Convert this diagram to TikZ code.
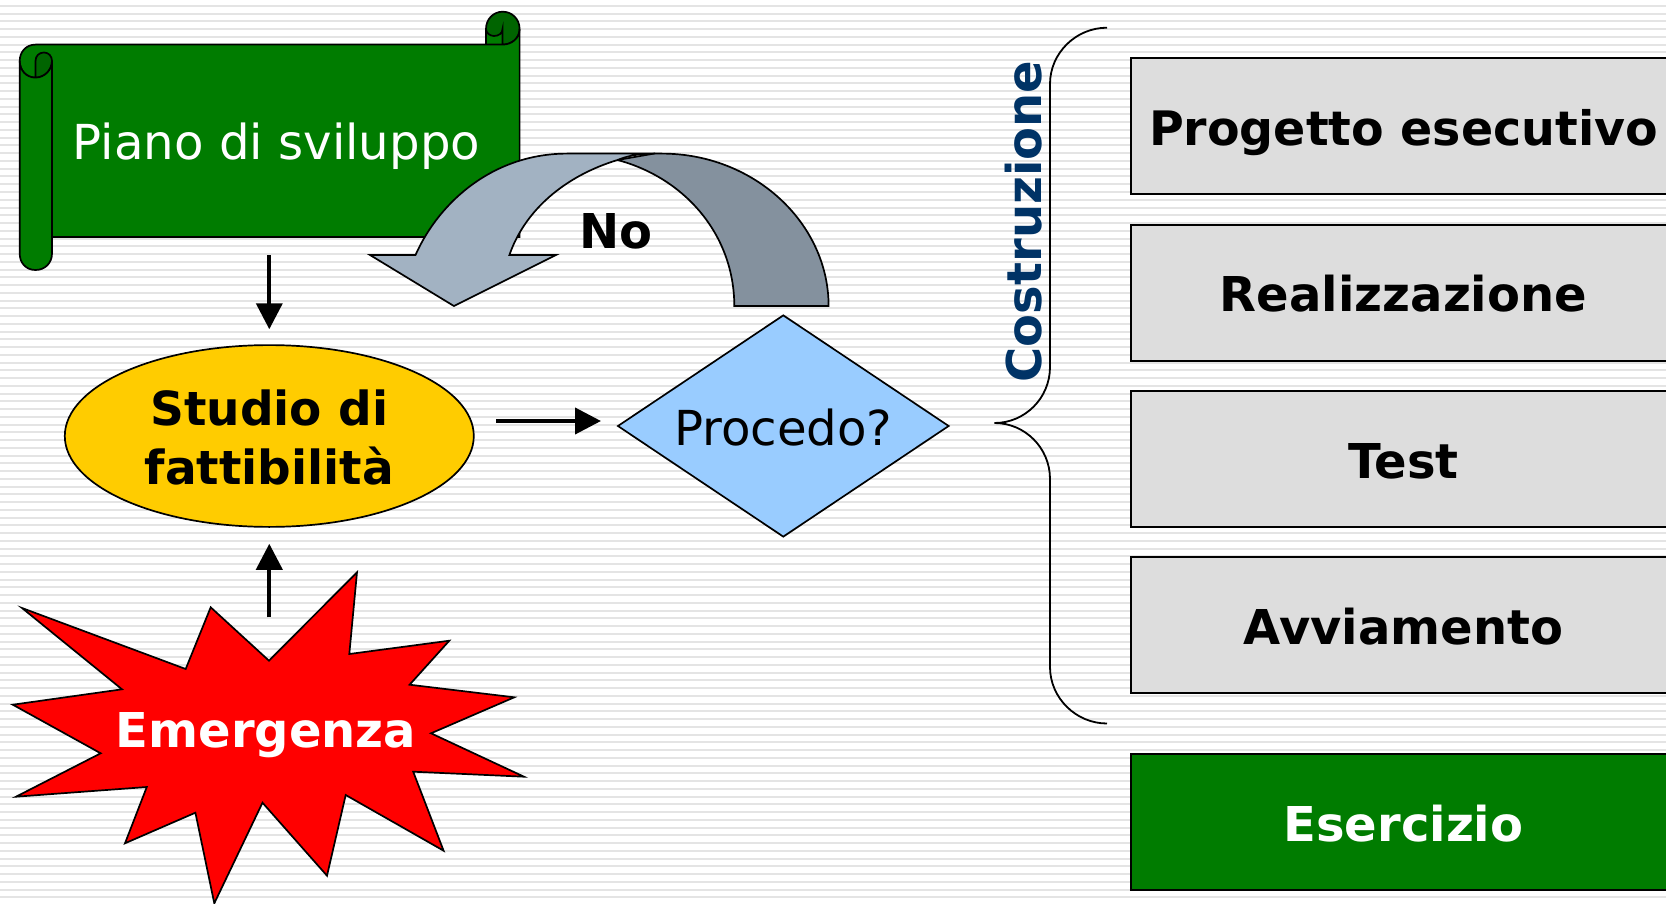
\documentclass[tikz,border=0pt]{standalone}
\usepackage{fontspec}
\setmainfont{DejaVu Sans}
\usetikzlibrary{shapes.geometric,arrows.meta}
\definecolor{scrollgreen}{RGB}{0,124,0}
\definecolor{scrolldark}{RGB}{0,100,0}
\definecolor{arrowlight}{RGB}{162,178,194}
\definecolor{arrowdark}{RGB}{132,145,158}
\definecolor{stripegray}{RGB}{228,228,228}
\definecolor{boxgray}{RGB}{221,221,221}
\definecolor{navytext}{RGB}{0,51,102}
\tikzset{
  bigtext/.style={font=\fontsize{24.1}{29}\selectfont},
  boldtext/.style={font=\fontsize{24}{29.5}\selectfont\bfseries},
  outline/.style={draw=black,line width=0.85pt},
  flow/.style={line width=2pt,-{Triangle[width=13pt,length=13pt]}},
  phasebox/.style={boldtext,draw=black,line width=1.1pt,minimum width=272.5pt,minimum height=68pt,
    inner sep=0pt,text height=22.5pt,text depth=3.2pt,fill=boxgray}
}
\begin{document}
\begin{tikzpicture}[x=0.5pt,y=-0.5pt]
\useasboundingbox (0,0) rectangle (1666,904);
\fill[white] (0,0) rectangle (1666,904);
\foreach \i in {0,...,116}
  \draw[stripegray,line width=1pt] (0,6+7.75*\i)--(1666,6+7.75*\i);

\filldraw[outline,fill=scrollgreen] (486,29) rectangle (502.5,44.6);
\filldraw[outline,fill=scrolldark] (486,29) .. controls (486,19) and (493.5,11.7) .. (502.7,11.7) .. controls (512,11.7) and (519.6,19) .. (519.6,29) .. controls (519.6,38) and (512,44.6) .. (502.5,44.6) -- (502.5,29) .. controls (502.5,33) and (499,36) .. (494,36) .. controls (490,36) and (486,33) .. (486,29) -- cycle;
\filldraw[outline,fill=scrollgreen] (52,61) -- (52,237) -- (519.6,237) -- (519.6,29) .. controls (519.6,38) and (512,44.6) .. (502.5,44.6) -- (35.5,44.6) .. controls (26,44.6) and (19.7,52) .. (19.7,61) .. controls (19.7,70) and (26,77.6) .. (35.5,77.6) .. controls (44.5,77.6) and (52,70) .. (52,61) -- cycle;
\filldraw[outline,fill=scrolldark] (52,61) .. controls (52,56) and (48.5,52.5) .. (44,52.5) .. controls (39,52.5) and (35.5,56) .. (35.5,61) -- (35.5,77.6) .. controls (44.5,77.6) and (52,70) .. (52,61) -- cycle;
\filldraw[outline,fill=scrollgreen] (19.7,61) -- (19.7,253.5) .. controls (19.7,263) and (26,270) .. (35.5,270) .. controls (45,270) and (52,263) .. (52,253.5) -- (52,61) .. controls (52,70) and (44.5,77.6) .. (35.5,77.6) .. controls (26,77.6) and (19.7,70) .. (19.7,61) -- cycle;
\node[bigtext,white,anchor=base] (piano) at (276.5,160) {Piano di sviluppo};

\filldraw[outline,fill=arrowdark] (654,153.6) -- (662,153.6) .. controls (754,153.6) and (828.6,223) .. (828.6,306) -- (734.3,306) .. controls (734.3,235) and (685,178) .. (617.5,160) -- cycle;
\filldraw[outline,fill=arrowlight] (415.5,255) .. controls (440,200) and (495,153.6) .. (567,153.6) -- (655,153.6) .. controls (635,153.6) and (625,157) .. (617.5,160) .. controls (565,176) and (525,210) .. (509.4,255) -- (556,255) -- (453.9,306) -- (370,255) -- cycle;
\node[boldtext,anchor=base] (nolabel) at (616,249) {No};

\node[ellipse,outline,fill={rgb,255:red,255;green,204;blue,0},minimum width=204.5pt,minimum height=90.9pt,inner sep=0pt,font=\fontsize{23.5}{29.5}\selectfont\bfseries,align=center] (studio) at (269.3,436) {\rule{0pt}{19.8pt}Studio di\\fattibilità};
\node[diamond,aspect=1.49,outline,fill={rgb,255:red,153;green,204;blue,255},minimum width=165.7pt,minimum height=111pt,inner sep=0pt,bigtext,text height=19.3pt,text depth=0pt] (procedo) at (783.3,426) {Procedo?};

\filldraw[outline,fill=red] (22,608) -- (185.7,669) -- (210.7,607.3) -- (269,660.7) -- (357,572.3) -- (349.3,654) -- (449.3,640.7) -- (409.6,684.7) -- (514.3,697.3) -- (431,733.3) -- (524,776.7) -- (413.2,771.7) -- (443.6,850.7) -- (345.7,795) -- (327,875.7) -- (262.5,802.7) -- (214.3,903.3) -- (195.4,812.7) -- (125,843.3) -- (146.8,787) -- (16,796.7) -- (100.7,753.3) -- (12.8,704.7) -- (122,689.3) -- cycle;
\node[boldtext,white,anchor=base] (emergenza) at (266,747) {Emergenza};

\coordinate (pianoout) at (269.3,255);
\coordinate (burstnotch) at (269.3,617.3);
\coordinate (studioout) at (496,421);
\coordinate (procin) at (601,421);
\draw[flow,shorten >=7.5pt] (pianoout)--(studio.north);
\draw[flow,shorten >=8pt] (burstnotch)--(studio.south);
\draw[flow] (studioout)--(procin);

\draw[line width=0.9pt] (1107,27.7) .. controls (1076,27.7) and (1050,53) .. (1050,84) -- (1050,367) .. controls (1050,398) and (1025,423) .. (994.5,423) .. controls (1025,423) and (1050,448) .. (1050,479) -- (1050,667) .. controls (1050,698) and (1076,723.5) .. (1107,723.5);
\node[boldtext,navytext,rotate=90,anchor=base] (costruzione) at (1041.7,221.5) {Costruzione};

\node[phasebox,font=\fontsize{23.75}{29.5}\selectfont\bfseries] (progetto) at (1403.5,126.4) {Progetto esecutivo};
\node[phasebox] (realizzazione) at (1403.5,292.6) {Realizzazione};
\node[phasebox] (test) at (1403.5,459) {Test};
\node[phasebox] (avviamento) at (1403.5,625.3) {Avviamento};
\node[phasebox,fill=scrollgreen,text=white] (esercizio) at (1403.5,822) {Esercizio};
\end{tikzpicture}
\end{document}
